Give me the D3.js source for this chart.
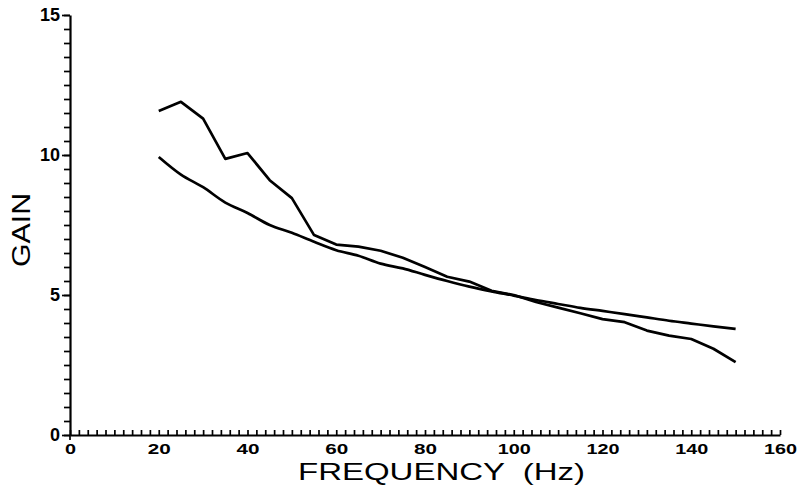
<!DOCTYPE html>
<html>
<head>
<meta charset="utf-8">
<script src="https://cdn.jsdelivr.net/npm/d3@7"></script>
<style>
  body { margin: 0; background: #fff; }
  svg { display: block; }
</style>
</head>
<body>
<svg id="chart"></svg>
<script>
// measured gain (jagged) and fitted curve (smooth)
const freqs = [20, 25, 30, 35, 40, 45, 50, 55, 60, 65, 70, 75, 80, 85, 90, 95, 100, 105, 110, 115, 120, 125, 130, 135, 140, 145, 150];
const measured = [11.57, 11.9, 11.3, 9.86, 10.07, 9.1, 8.46, 7.14, 6.8, 6.73, 6.58, 6.33, 6.0, 5.65, 5.48, 5.15, 5.0, 4.75, 4.55, 4.35, 4.14, 4.03, 3.73, 3.55, 3.43, 3.08, 2.6];
const fitted = [9.93, 9.3, 8.85, 8.3, 7.93, 7.5, 7.22, 6.9, 6.6, 6.4, 6.12, 5.95, 5.72, 5.5, 5.3, 5.13, 4.98, 4.82, 4.68, 4.54, 4.43, 4.32, 4.2, 4.08, 3.98, 3.88, 3.79];
const xTicks = [0, 20, 40, 60, 80, 100, 120, 140, 160];
const yTicks = [0, 5, 10, 15];

const W = 799, H = 490;
const svg = d3.select('#chart').attr('width', W).attr('height', H);

const x = d3.scaleLinear().domain([0, 160]).range([70, 780]);
const y = d3.scaleLinear().domain([0, 15]).range([435, 15]);

const ink = '#000';

// x axis: minor ticks every 2 pointing up
const xAxis = svg.append('g')
.attr('transform', `translate(0, ${y(0)})`)
.call(d3.axisBottom(x).tickValues(d3.range(0, 161, 2)).tickSizeInner(-5).tickSizeOuter(0).tickFormat(''));
xAxis.select('.domain').attr('stroke', ink).attr('stroke-width', 2.2);
xAxis.selectAll('.tick line').attr('stroke', ink).attr('stroke-width', 1.7);

// x labels
const xLab = svg.append('g')
.attr('transform', `translate(0, ${y(0)})`)
.call(d3.axisBottom(x).tickValues(xTicks).tickSize(0).tickPadding(0));
xLab.select('.domain').remove();
xLab.selectAll('.tick text')
.attr('y', 19)
.attr('dy', 0)
.attr('font-family', 'Liberation Sans, Arial, sans-serif')
.attr('font-weight', 'bold')
.attr('font-size', 15)
.attr('fill', ink)
.attr('textLength', d => d < 10 ? 11 : (d < 100 ? 23 : 33))
.attr('lengthAdjust', 'spacingAndGlyphs');

// y axis: minor ticks every 0.5 pointing left
const yAxis = svg.append('g')
.attr('transform', `translate(${x(0)}, 0)`)
.call(d3.axisLeft(y).tickValues(d3.range(0, 15.01, 0.5)).tickSizeInner(6).tickSizeOuter(0).tickFormat(''));
yAxis.select('.domain').attr('stroke', ink).attr('stroke-width', 2.2);
yAxis.selectAll('.tick line').attr('stroke', ink).attr('stroke-width', 1.7);

const yLab = svg.append('g')
.attr('transform', `translate(${x(0)}, 0)`)
.call(d3.axisLeft(y).tickValues(yTicks).tickSizeInner(8).tickSizeOuter(0).tickPadding(2));
yLab.select('.domain').remove();
yLab.selectAll('.tick line').attr('stroke', ink).attr('stroke-width', 1.7);
yLab.selectAll('.tick text')
.attr('font-family', 'Liberation Sans, Arial, sans-serif')
.attr('font-weight', 'bold')
.attr('font-size', 18)
.attr('fill', ink);

// cross below origin
svg.append('line')
.attr('x1', x(0)).attr('x2', x(0))
.attr('y1', y(0)).attr('y2', y(0) + 5)
.attr('stroke', ink).attr('stroke-width', 1.7);

// axis titles
svg.append('text')
.attr('x', 298)
.attr('y', 480)
.attr('font-family', 'Liberation Sans, Arial, sans-serif')
.attr('font-size', 24)
.attr('fill', ink)
.style('white-space', 'pre')
.attr('textLength', 287)
.attr('lengthAdjust', 'spacingAndGlyphs')
.text('FREQUENCY  (Hz)');

svg.append('text')
.attr('transform', 'translate(30, 230) rotate(-90)')
.attr('text-anchor', 'middle')
.attr('font-family', 'Liberation Sans, Arial, sans-serif')
.attr('font-size', 25)
.attr('fill', ink)
.attr('textLength', 74)
.attr('lengthAdjust', 'spacingAndGlyphs')
.text('GAIN');

// data lines
const measuredPts = freqs.map((f, i) => [f, measured[i]]);
const fittedPts = freqs.map((f, i) => [f, fitted[i]]);

svg.append('path')
.datum(fittedPts)
.attr('fill', 'none')
.attr('stroke', ink)
.attr('stroke-width', 2.7)
.attr('stroke-linejoin', 'round')
.attr('d', d3.line().x(d => x(d[0])).y(d => y(d[1])).curve(d3.curveMonotoneX));

svg.append('path')
.datum(measuredPts)
.attr('fill', 'none')
.attr('stroke', ink)
.attr('stroke-width', 2.7)
.attr('stroke-linejoin', 'round')
.attr('d', d3.line().x(d => x(d[0])).y(d => y(d[1])));
</script>
</body>
</html>
